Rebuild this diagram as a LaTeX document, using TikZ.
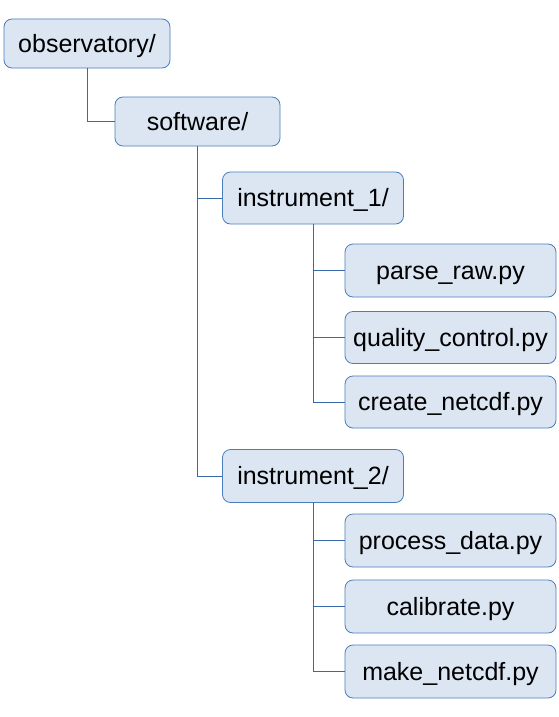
\documentclass[tikz,border=0pt]{standalone}
\usepackage{fontspec}
\setmainfont{Liberation Sans}
\usepackage{xcolor}
\usetikzlibrary{positioning}
\definecolor{treefill}{HTML}{DCE6F2}
\definecolor{treeborder}{HTML}{4A7EBB}
\definecolor{treeline}{HTML}{3A68A8}
\tikzset{
    folder/.style={draw=treeborder, fill=treefill, rounded corners=8pt, line width=0.8pt, font=\fontsize{25}{29}\selectfont, inner sep=0pt, text height=18pt, text depth=0.5pt},
    treelink/.style={draw=treeline, line width=0.9pt},
}

\begin{document}
\begin{tikzpicture}[x=1pt, y=-1pt]
    \useasboundingbox (0,0) rectangle (559,717);

    % top levels
    \node[folder, minimum width=166pt, minimum height=49pt] (obs) at (87, 43.5) {observatory/};
    \node[folder, minimum width=165pt, minimum height=49pt] (soft) at (197.5, 121.5) {software/};

    % instrument 1
    \node[folder, minimum width=181pt, minimum height=52pt] (ins1) at (313, 198) {instrument\_1/};
    \node[folder, minimum width=211pt, minimum height=53pt] (parse) at (450.5, 270.5) {parse\_raw.py};
    \node[folder, minimum width=211pt, minimum height=52pt] (quality) at (450.5, 337.5) {quality\_control.py};
    \node[folder, minimum width=211pt, minimum height=52pt] (create) at (450.5, 402) {create\_netcdf.py};

    % instrument 2
    \node[folder, minimum width=181pt, minimum height=53pt] (ins2) at (313, 476) {instrument\_2/};
    \node[folder, minimum width=211pt, minimum height=53pt] (process) at (450.5, 540.5) {process\_data.py};
    \node[folder, minimum width=211pt, minimum height=53pt] (calib) at (450.5, 606.5) {calibrate.py};
    \node[folder, minimum width=211pt, minimum height=53pt] (make) at (450.5, 671.5) {make\_netcdf.py};

    % links
    \draw[treelink] (obs.south) |- (soft.west);
    \draw[treelink] (soft.south) |- (ins1.west);
    \draw[treelink] (soft.south) |- (ins2.west);
    \foreach \f in {parse, quality, create}
        \draw[treelink] (ins1.south) |- (\f.west);
    \foreach \f in {process, calib, make}
        \draw[treelink] (ins2.south) |- (\f.west);
\end{tikzpicture}
\end{document}
